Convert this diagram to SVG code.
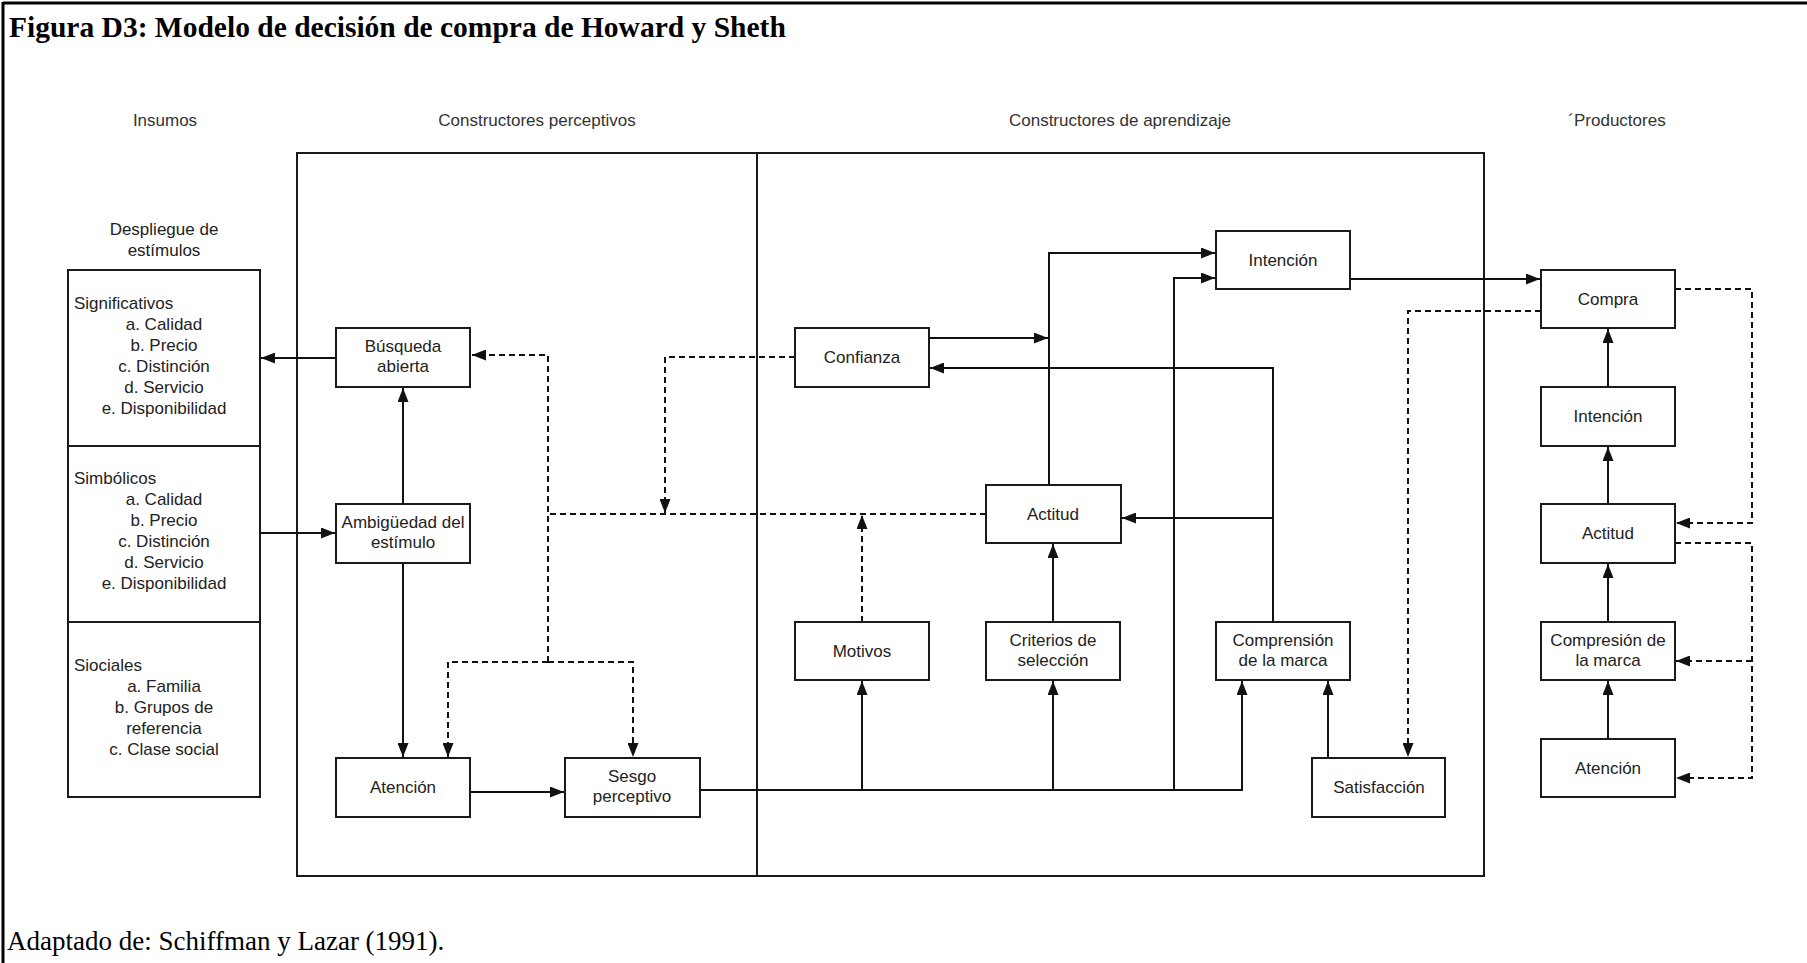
<svg xmlns="http://www.w3.org/2000/svg" width="1807" height="963" viewBox="0 0 1807 963">
  <defs>
    <marker id="arrow" viewBox="0 0 14 11" refX="14" refY="5.5" markerWidth="14" markerHeight="11" markerUnits="userSpaceOnUse" orient="auto">
      <path d="M0,0 L14,5.5 L0,11 z" fill="#111"/>
    </marker>
    <style>
      .frame { stroke: #000; stroke-width: 3; fill: none; }
      .panel { stroke: #1a1a1a; stroke-width: 2; fill: none; }
      .box { stroke: #1a1a1a; stroke-width: 2; fill: #fff; }
      .lbl { font-family: "Liberation Sans", Arial, sans-serif; font-size: 17px; fill: #222; text-anchor: middle; }
      .lft { text-anchor: start; }
      .head { font-family: "Liberation Sans", Arial, sans-serif; font-size: 17px; fill: #333; text-anchor: middle; }
      .title { font-family: "Liberation Serif", "Times New Roman", serif; font-size: 29.5px; font-weight: bold; fill: #000; }
      .note { font-family: "Liberation Serif", "Times New Roman", serif; font-size: 27px; fill: #000; }
      .solid { stroke: #111; stroke-width: 2; fill: none; }
      .dash { stroke: #111; stroke-width: 2; fill: none; stroke-dasharray: 6 4; }
      .arr { marker-end: url(#arrow); }
    </style>
  </defs>

  <rect width="1807" height="963" fill="#fff"/>

  <!-- page frame -->
  <line class="frame" x1="3" y1="3" x2="1807" y2="3"/>
  <line class="frame" x1="3" y1="2" x2="3" y2="963"/>

  <text class="title" x="9" y="37">Figura D3: Modelo de decisión de compra de Howard y Sheth</text>
  <text class="note" x="7" y="950">Adaptado de: Schiffman y Lazar (1991).</text>

  <!-- column headings -->
  <g id="headings">
    <text class="head" x="165" y="126">Insumos</text>
    <text class="head" x="537" y="126">Constructores perceptivos</text>
    <text class="head" x="1120" y="126">Constructores de aprendizaje</text>
    <text class="head" x="1617" y="126">´Productores</text>
  </g>

  <!-- construct panels -->
  <g id="panels">
    <rect class="panel" x="297" y="153" width="1187" height="723"/>
    <line class="panel" x1="757" y1="153" x2="757" y2="876"/>
  </g>

  <!-- stimulus display -->
  <g id="estimulos">
    <text class="lbl" x="164" y="235">Despliegue de</text>
    <text class="lbl" x="164" y="256">estímulos</text>
    <rect class="box" x="68" y="270" width="192" height="527"/>
    <line class="panel" x1="68" y1="446" x2="260" y2="446"/>
    <line class="panel" x1="68" y1="622" x2="260" y2="622"/>
    <text class="lbl lft" x="74" y="309">Significativos</text>
    <text class="lbl" x="164" y="330">a. Calidad</text>
    <text class="lbl" x="164" y="351">b. Precio</text>
    <text class="lbl" x="164" y="372">c. Distinción</text>
    <text class="lbl" x="164" y="393">d. Servicio</text>
    <text class="lbl" x="164" y="414">e. Disponibilidad</text>
    <text class="lbl lft" x="74" y="484">Simbólicos</text>
    <text class="lbl" x="164" y="505">a. Calidad</text>
    <text class="lbl" x="164" y="526">b. Precio</text>
    <text class="lbl" x="164" y="547">c. Distinción</text>
    <text class="lbl" x="164" y="568">d. Servicio</text>
    <text class="lbl" x="164" y="589">e. Disponibilidad</text>
    <text class="lbl lft" x="74" y="671">Siociales</text>
    <text class="lbl" x="164" y="692">a. Familia</text>
    <text class="lbl" x="164" y="713">b. Grupos de</text>
    <text class="lbl" x="164" y="734">referencia</text>
    <text class="lbl" x="164" y="755">c. Clase social</text>
  </g>

  <!-- connectors -->
  <g id="connectors">
    <!-- perceptual constructs -->
    <path class="solid arr" d="M336,358 H261"/>
    <path class="solid arr" d="M260,533 H335"/>
    <path class="solid arr" d="M403,504 V388"/>
    <path class="solid arr" d="M403,563 V757"/>
    <path class="solid arr" d="M470,792 H564"/>
    <!-- bus from perceptual bias -->
    <path class="solid arr" d="M700,790 H1242 V681"/>
    <path class="solid arr" d="M862,790 V681"/>
    <path class="solid arr" d="M1053,790 V681"/>
    <path class="solid arr" d="M1174,790 V278 H1215"/>
    <!-- learning constructs -->
    <path class="solid arr" d="M1053,622 V544"/>
    <path class="solid arr" d="M1049,485 V253 H1215"/>
    <path class="solid arr" d="M929,338 H1048"/>
    <path class="solid arr" d="M1273,622 V368 H930"/>
    <path class="solid arr" d="M1273,518 H1122"/>
    <path class="solid arr" d="M1328,758 V681"/>
    <path class="solid arr" d="M1350,279 H1540"/>
    <!-- outputs chain -->
    <path class="solid arr" d="M1608,739 V681"/>
    <path class="solid arr" d="M1608,622 V564"/>
    <path class="solid arr" d="M1608,504 V447"/>
    <path class="solid arr" d="M1608,387 V329"/>
    <!-- feedback (dashed) -->
    <path class="dash arr" d="M795,357 H665 V513"/>
    <path class="dash" d="M986,514 H548"/>
    <path class="dash arr" d="M548,662 V355 H472"/>
    <path class="dash arr" d="M548,662 H448 V757"/>
    <path class="dash arr" d="M548,662 H633 V757"/>
    <path class="dash arr" d="M862,622 V515"/>
    <path class="dash arr" d="M1541,311 H1408 V757"/>
    <path class="dash arr" d="M1675,289 H1752 V523 H1676"/>
    <path class="dash arr" d="M1675,543 H1752 V778 H1676"/>
    <path class="dash arr" d="M1752,661 H1676"/>
  </g>

  <!-- perceptual constructs -->
  <g id="busqueda">
    <rect class="box" x="336" y="328" width="134" height="59"/>
    <text class="lbl" x="403" y="352">Búsqueda</text>
    <text class="lbl" x="403" y="372">abierta</text>
  </g>
  <g id="ambiguedad">
    <rect class="box" x="336" y="504" width="134" height="59"/>
    <text class="lbl" x="403" y="528">Ambigüedad del</text>
    <text class="lbl" x="403" y="548">estímulo</text>
  </g>
  <g id="atencion-perceptiva">
    <rect class="box" x="336" y="758" width="134" height="59"/>
    <text class="lbl" x="403" y="793">Atención</text>
  </g>
  <g id="sesgo">
    <rect class="box" x="565" y="758" width="135" height="59"/>
    <text class="lbl" x="632" y="782">Sesgo</text>
    <text class="lbl" x="632" y="802">perceptivo</text>
  </g>

  <!-- learning constructs -->
  <g id="confianza">
    <rect class="box" x="795" y="328" width="134" height="59"/>
    <text class="lbl" x="862" y="363">Confianza</text>
  </g>
  <g id="intencion-aprendizaje">
    <rect class="box" x="1216" y="231" width="134" height="58"/>
    <text class="lbl" x="1283" y="266">Intención</text>
  </g>
  <g id="actitud-aprendizaje">
    <rect class="box" x="986" y="485" width="135" height="58"/>
    <text class="lbl" x="1053" y="520">Actitud</text>
  </g>
  <g id="motivos">
    <rect class="box" x="795" y="622" width="134" height="58"/>
    <text class="lbl" x="862" y="657">Motivos</text>
  </g>
  <g id="criterios">
    <rect class="box" x="986" y="622" width="134" height="58"/>
    <text class="lbl" x="1053" y="646">Criterios de</text>
    <text class="lbl" x="1053" y="666">selección</text>
  </g>
  <g id="comprension">
    <rect class="box" x="1216" y="622" width="134" height="58"/>
    <text class="lbl" x="1283" y="646">Comprensión</text>
    <text class="lbl" x="1283" y="666">de la marca</text>
  </g>
  <g id="satisfaccion">
    <rect class="box" x="1312" y="758" width="133" height="59"/>
    <text class="lbl" x="1379" y="793">Satisfacción</text>
  </g>

  <!-- outputs -->
  <g id="compra">
    <rect class="box" x="1541" y="270" width="134" height="58"/>
    <text class="lbl" x="1608" y="305">Compra</text>
  </g>
  <g id="intencion-producto">
    <rect class="box" x="1541" y="387" width="134" height="59"/>
    <text class="lbl" x="1608" y="422">Intención</text>
  </g>
  <g id="actitud-producto">
    <rect class="box" x="1541" y="504" width="134" height="59"/>
    <text class="lbl" x="1608" y="539">Actitud</text>
  </g>
  <g id="compresion">
    <rect class="box" x="1541" y="622" width="134" height="58"/>
    <text class="lbl" x="1608" y="646">Compresión de</text>
    <text class="lbl" x="1608" y="666">la marca</text>
  </g>
  <g id="atencion-producto">
    <rect class="box" x="1541" y="739" width="134" height="58"/>
    <text class="lbl" x="1608" y="774">Atención</text>
  </g>
</svg>
